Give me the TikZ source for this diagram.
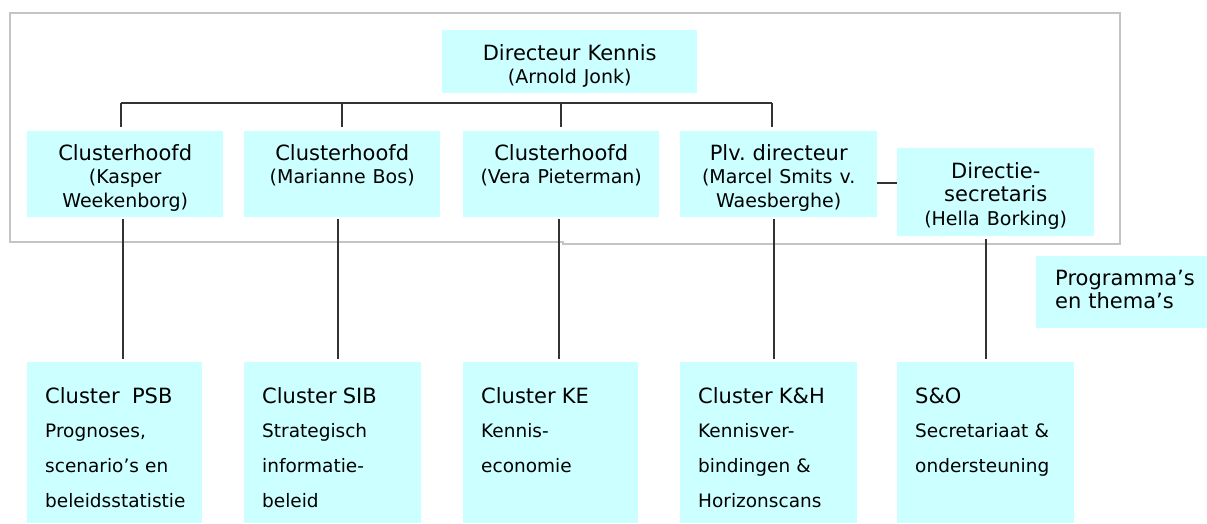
\documentclass[tikz,border=0pt]{standalone}
\usepackage{fontspec}
\setmainfont{DejaVu Sans}
\frenchspacing
\definecolor{boxcyan}{HTML}{CCFFFF}
\definecolor{linedark}{HTML}{333333}
\definecolor{framegray}{HTML}{C4C4C4}
\newcommand\hdfont{\fontsize{21}{23.5}\selectfont}
\newcommand\nmfont{\fontsize{19}{23.5}\selectfont}
\newcommand\unitfont{\fontsize{18.5}{34.7}\selectfont}
\begin{document}
\begin{tikzpicture}[x=1pt,y=-1pt,
  box/.style={fill=boxcyan, draw=none, inner sep=0pt, anchor=north west},
  headtext/.style={anchor=base, align=center, inner sep=0pt, font=\hdfont, text width=190pt},
  unittext/.style={anchor=base west, align=left, inner sep=0pt, font=\unitfont, text width=160pt},
  conn/.style={draw=linedark, line width=1.8pt},
  frame/.style={draw=framegray, line width=1.8pt}]
\useasboundingbox (0,0) rectangle (1207,523);

% management frame (slight step in its lower edge)
\draw[frame] (10,13) -- (1120,13) -- (1120,244) -- (563,244) -- (563,242) -- (10,242) -- cycle;

% boxes
\node[box, minimum width=255pt, minimum height=63pt] (dir) at (442,30) {};
\node[box, minimum width=196pt, minimum height=86pt] (ch1) at (27,131) {};
\node[box, minimum width=196pt, minimum height=86pt] (ch2) at (244,131) {};
\node[box, minimum width=196pt, minimum height=86pt] (ch3) at (463,131) {};
\node[box, minimum width=197pt, minimum height=86pt] (plv) at (680,131) {};
\node[box, minimum width=197pt, minimum height=88pt] (sec) at (897,148) {};
\node[box, minimum width=171pt, minimum height=72pt] (prog) at (1036,256) {};
\node[box, minimum width=175pt, minimum height=161pt] (cl1) at (27,362) {};
\node[box, minimum width=177pt, minimum height=161pt] (cl2) at (244,362) {};
\node[box, minimum width=175pt, minimum height=161pt] (cl3) at (463,362) {};
\node[box, minimum width=177pt, minimum height=161pt] (cl4) at (680,362) {};
\node[box, minimum width=177pt, minimum height=161pt] (cl5) at (897,362) {};

% texts of the management boxes
\node[headtext] (dirT) at ([yshift=-30pt]dir.north) {Directeur Kennis\\{\nmfont (Arnold Jonk)}};
\node[headtext] (ch1T) at ([yshift=-29pt]ch1.north) {Clusterhoofd\\{\nmfont (Kasper\\Weekenborg)}};
\node[headtext] (ch2T) at ([yshift=-29pt]ch2.north) {Clusterhoofd\\{\nmfont (Marianne Bos)}};
\node[headtext] (ch3T) at ([yshift=-29pt]ch3.north) {Clusterhoofd\\{\nmfont (Vera Pieterman)}};
\node[headtext] (plvT) at ([yshift=-29pt]plv.north) {Plv. directeur\\{\nmfont (Marcel Smits v.\\Waesberghe)}};
\node[headtext] (secT) at ([yshift=-30pt]sec.north) {Directie-\\secretaris\\{\nmfont (Hella Borking)}};
\node[anchor=base west, align=left, inner sep=0pt, font=\hdfont, text width=160pt] (progT)
  at ([xshift=19pt,yshift=-29pt]prog.north west) {Programma’s\\en thema’s};

% texts of the units
\node[unittext] (cl1T) at ([xshift=18pt,yshift=-41pt]cl1.north west)
  {{\hdfont Cluster\ \ PSB}\\Prognoses,\\scenario’s en\\beleidsstatistie};
\node[unittext] (cl2T) at ([xshift=18pt,yshift=-41pt]cl2.north west)
  {{\hdfont Cluster SIB}\\Strategisch\\informatie-\\beleid};
\node[unittext] (cl3T) at ([xshift=18pt,yshift=-41pt]cl3.north west)
  {{\hdfont Cluster KE}\\Kennis-\\economie};
\node[unittext] (cl4T) at ([xshift=18pt,yshift=-41pt]cl4.north west)
  {{\hdfont Cluster K\&H}\\Kennisver-\\bindingen \&\\Horizonscans};
\node[unittext] (cl5T) at ([xshift=18pt,yshift=-41pt]cl5.north west)
  {{\hdfont S\&O}\\Secretariaat \&\\ondersteuning};

% bar below the director
\coordinate (t1) at (121,103);
\coordinate (t2) at (342,103);
\coordinate (t3) at (561,103);
\coordinate (t4) at (772,103);
\draw[conn] (t1) -- (t4);
\draw[conn, shorten >=4pt] (t1) -- (t1 |- ch1.north);
\draw[conn, shorten >=4pt] (t2) -- (t2 |- ch2.north);
\draw[conn, shorten >=4pt] (t3) -- (t3 |- ch3.north);
\draw[conn, shorten >=4pt] (t4) -- (t4 |- plv.north);

% deputy director to the secretary
\coordinate (sy) at (0,183);
\draw[conn] (plv.east |- sy) -- (sec.west |- sy);

% management to units
\coordinate (v1) at (123,0);
\coordinate (v2) at (338,0);
\coordinate (v3) at (559,0);
\coordinate (v4) at (774,0);
\coordinate (v5) at (986,0);
\draw[conn, shorten <=2pt, shorten >=3pt] (ch1.south -| v1) -- (cl1.north -| v1);
\draw[conn, shorten <=2pt, shorten >=3pt] (ch2.south -| v2) -- (cl2.north -| v2);
\draw[conn, shorten <=2pt, shorten >=3pt] (ch3.south -| v3) -- (cl3.north -| v3);
\draw[conn, shorten <=2pt, shorten >=3pt] (plv.south -| v4) -- (cl4.north -| v4);
\draw[conn, shorten <=3pt, shorten >=3pt] (sec.south -| v5) -- (cl5.north -| v5);
\end{tikzpicture}
\end{document}
